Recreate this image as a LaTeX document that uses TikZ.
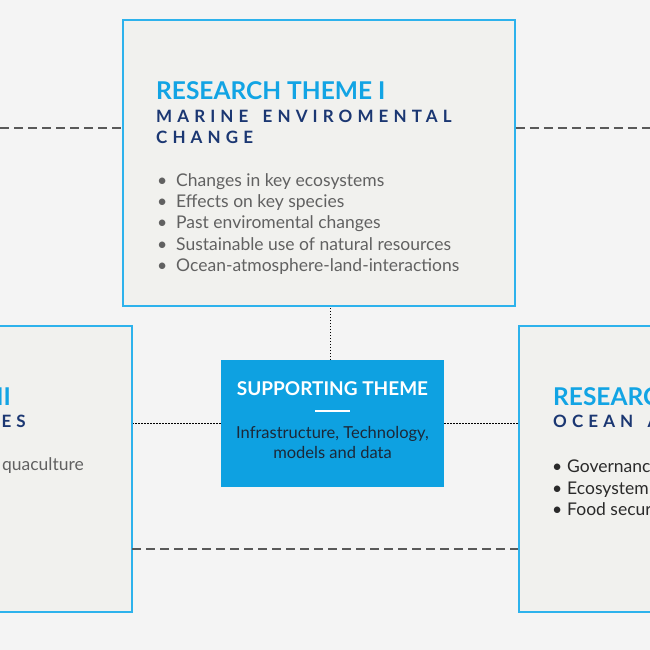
\documentclass[tikz,border=0pt]{standalone}
\usepackage{fontspec}
\setmainfont{Lato}
\newfontfamily\spacedfont[LetterSpace=30]{Lato}
\usetikzlibrary{positioning}
\definecolor{thbg}{HTML}{F4F4F4}
\definecolor{thbox}{HTML}{F1F1EE}
\definecolor{thedge}{HTML}{2DB2EC}
\definecolor{thcyan}{HTML}{12A4E4}
\definecolor{thnavy}{HTML}{1B3772}
\definecolor{thgray}{HTML}{616161}
\definecolor{thdark}{HTML}{2A2A2A}
\definecolor{thsupp}{HTML}{0EA1E1}
\definecolor{thsupptxt}{HTML}{1C2838}
\definecolor{thdash}{HTML}{595959}

\begin{document}
\begin{tikzpicture}[x=1pt,y=-1pt,
 themebox/.style={draw=thedge,line width=1.6pt,fill=thbox,minimum width=392pt,minimum height=286pt,inner sep=0pt},
 suppbox/.style={fill=thsupp,minimum width=223pt,minimum height=127pt,inner sep=0pt},
 ttl/.style={anchor=base west,inner sep=0pt,text=thcyan,font=\fontsize{24.5}{28}\selectfont\bfseries},
 sub/.style={anchor=base west,inner sep=0pt,text=thnavy,font=\spacedfont\fontsize{17}{20}\selectfont\bfseries},
 item/.style={anchor=base west,inner sep=0pt,text=thgray,font=\fontsize{17.5}{20}\selectfont},
 darkitem/.style={item,text=thdark},
 longdash/.style={draw=thdash,line width=1.8pt,dash pattern=on 9pt off 5pt},
 dotline/.style={draw=black,line width=0.9pt,dash pattern=on 1.5pt off 1.5pt}
]
\useasboundingbox (0,0) rectangle (650,650);
\fill[thbg] (0,0) rectangle (650,650);
\clip (0,0) rectangle (650,650);

% theme boxes
\node[themebox] (top) at (319,163) {};
\node[themebox] (left) at (-64,469) {};
\node[themebox] (right) at (715,469) {};
\node[suppbox] (supp) at (332.5,423.5) {};

% connectors
\coordinate (dl) at (0,128);
\coordinate (dr) at (650,128);
\coordinate (db) at (132,549);
\draw[longdash] (dl) -- (dl -| top.west);
\draw[longdash] (top.east |- dr) -- (dr);
\draw[longdash] (db) -- (db -| right.west);
\draw[dotline] (330,360) coordinate (vt) -- (vt |- top.south);
\draw[dotline] (supp.west) -- (supp.west -| left.east);
\draw[dotline] (supp.east) -- (supp.east -| right.west);

% research theme I
\node[ttl] (t1) at (156,100) {RESEARCH THEME I};
\node[sub] (s1a) at (156,122) {MARINE\hspace{5pt} ENVIROMENTAL};
\node[sub] (s1b) at (156,143) {CHANGE};
\node[item] (i1) at (157,186) {\makebox[19pt][l]{\textbullet}Changes in key ecosystems};
\node[item] (i2) at (157,207) {\makebox[19pt][l]{\textbullet}Effects on key species};
\node[item] (i3) at (157,228) {\makebox[19pt][l]{\textbullet}Past enviromental changes};
\node[item] (i4) at (157,250) {\makebox[19pt][l]{\textbullet}Sustainable use of natural resources};
\node[item] (i5) at (157,271) {\makebox[19pt][l]{\textbullet}Ocean-atmosphere-land-interactions};

% left theme (cut off)
\node[ttl,anchor=base east] (t2) at (11,405) {II};
\node[sub,anchor=base east] (s2) at (26,427) {ES};
\node[item,anchor=base east] (i6) at (84,470) {quaculture};

% right theme (cut off)
\node[ttl] (t3) at (553,405) {RESEARC};
\node[sub] (s3) at (553,427) {OCEAN\hspace{5pt} A};
\node[darkitem] (i7) at (552,472) {\makebox[15pt][l]{\textbullet}Governanc};
\node[darkitem] (i8) at (552,494) {\makebox[15pt][l]{\textbullet}Ecosystem};
\node[darkitem] (i9) at (552,515) {\makebox[15pt][l]{\textbullet}Food secur};

% supporting theme
\node[text=white,font=\fontsize{19}{22}\selectfont\bfseries,inner sep=0pt,anchor=base] (st) at (332.5,395) {SUPPORTING THEME};
\node[minimum width=34pt,minimum height=0pt,inner sep=0pt] (bar) at (332.5,411) {};
\draw[white,line width=1.6pt] (bar.west) -- (bar.east);
\node[text=thsupptxt,font=\fontsize{16.5}{20}\selectfont,align=center,inner sep=0pt,anchor=base] (sd) at (332.5,458)
  {Infrastructure, Technology,\\models and data};
\end{tikzpicture}
\end{document}
